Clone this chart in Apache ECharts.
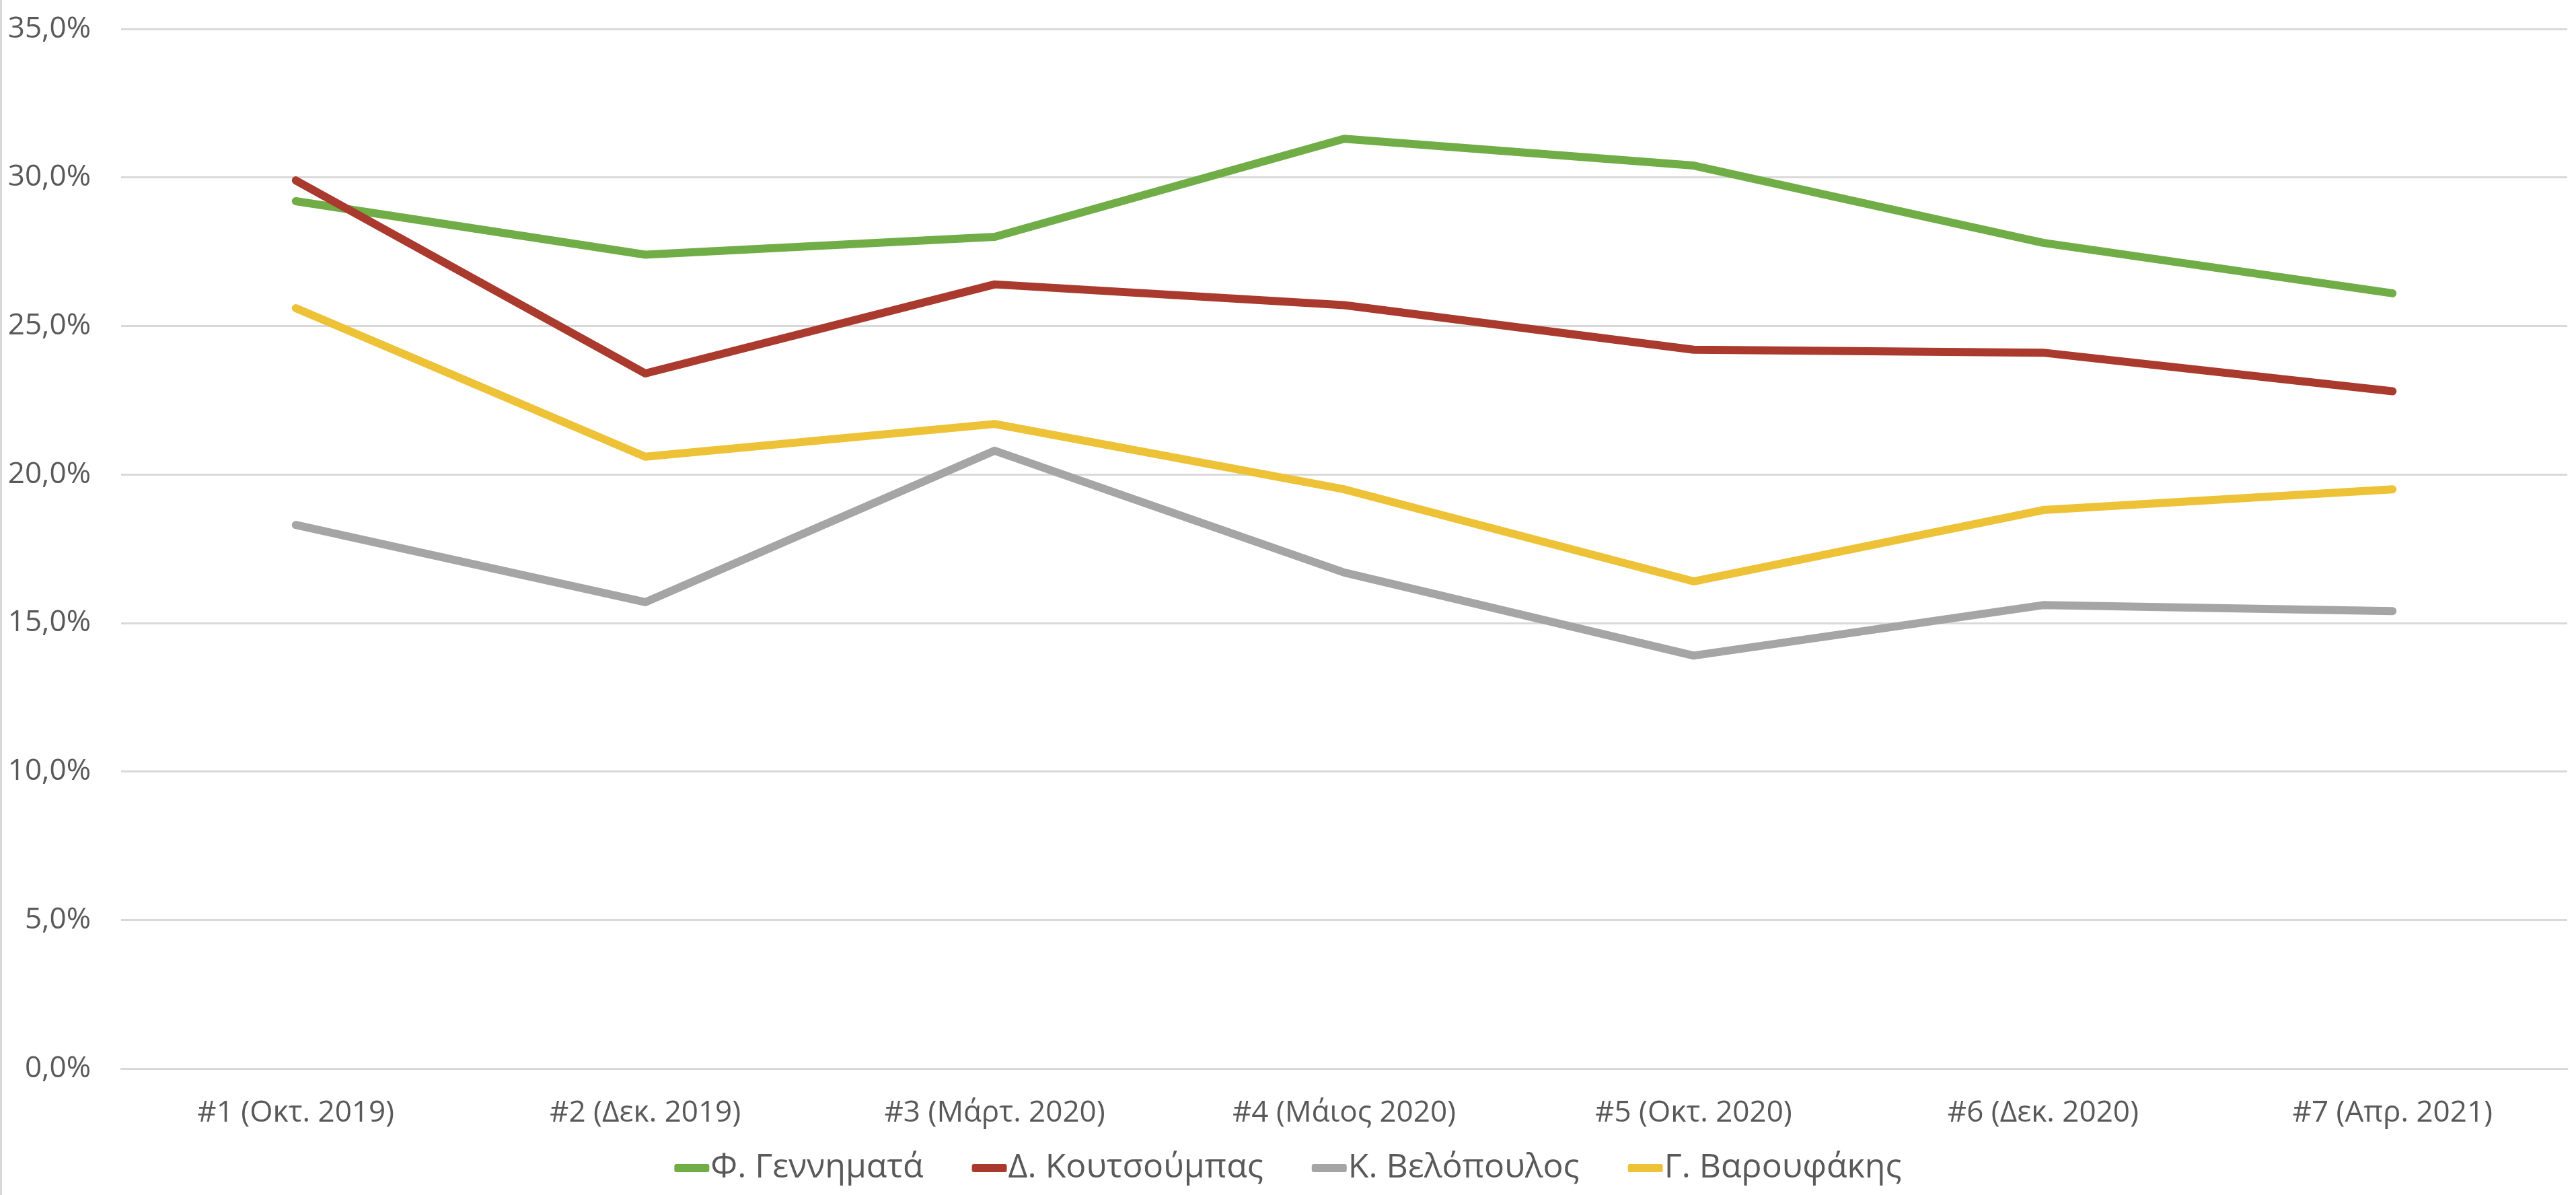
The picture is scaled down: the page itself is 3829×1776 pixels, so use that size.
<!DOCTYPE html>
<html>
<head>
    <meta charset="utf-8">
    <title>ECharts</title>
    <script src="https://cdn.jsdelivr.net/npm/echarts@6/dist/echarts.min.js"></script>
    <style>
        html, body { margin: 0; padding: 0; background: #fff; }
    </style>
</head>
<body>
    <div id="main" style="width: 3829px;height:1776px;"></div>
    <script type="text/javascript">
        var myChart = echarts.init(document.getElementById('main'));

        // δημοσκοπήσεις
        var categories = ['#1 (Οκτ. 2019)', '#2 (Δεκ. 2019)', '#3 (Μάρτ. 2020)', '#4 (Μάιος 2020)',
                          '#5 (Οκτ. 2020)', '#6 (Δεκ. 2020)', '#7 (Απρ. 2021)'];
        var names = ['Φ. Γεννηματά', 'Δ. Κουτσούμπας', 'Κ. Βελόπουλος', 'Γ. Βαρουφάκης'];
        var gennimata   = [29.2, 27.4, 28.0, 31.3, 30.4, 27.8, 26.1];
        var koutsoumpas = [29.9, 23.4, 26.4, 25.7, 24.2, 24.1, 22.8];
        var velopoulos  = [18.3, 15.7, 20.8, 16.7, 13.9, 15.6, 15.4];
        var varoufakis  = [25.6, 20.6, 21.7, 19.5, 16.4, 18.8, 19.5];
        var colors = ['#70AD47', '#AA3A2D', '#A5A5A5', '#EDC237'];

        var font = '"Open Sans", "Noto Sans", sans-serif';
        var textColor = '#595959';

        function makeLine(name, data, color) {
            return {
                name: name,
                type: 'line',
                data: data,
                symbol: 'none',
                smooth: false,
                lineStyle: { width: 12, color: color, cap: 'round', join: 'round' },
                itemStyle: { color: color }
            };
        }

        option = {
            animation: false,
            backgroundColor: '#fff',
            grid: { left: 180, right: 13, top: 43, bottom: 188, containLabel: false },
            legend: {
                bottom: 10,
                left: 'center',
                icon: 'roundRect',
                itemWidth: 52,
                itemHeight: 12,
                itemGap: 72,
                textStyle: { fontFamily: font, fontSize: 50, color: textColor, padding: [0, 0, 0, -3] },
                data: names
            },
            xAxis: {
                type: 'category',
                data: categories,
                boundaryGap: true,
                axisLine: { show: true, lineStyle: { color: '#D9D9D9', width: 3 } },
                axisTick: { show: false },
                axisLabel: { fontFamily: font, fontSize: 44, color: textColor, margin: 44 }
            },
            yAxis: {
                type: 'value',
                min: 0,
                max: 35,
                interval: 5,
                axisLine: { show: false },
                axisTick: { show: false },
                splitLine: { lineStyle: { color: '#D9D9D9', width: 3 } },
                axisLabel: {
                    fontFamily: font, fontSize: 44, color: textColor, margin: 45,
                    formatter: function (v) { return v.toFixed(1).replace('.', ',') + '%'; }
                }
            },
            graphic: [{
                type: 'rect',
                left: 0, top: 0,
                shape: { width: 3, height: 1776 },
                style: { fill: '#D9D9D9' }
            }],
            series: [
                makeLine(names[0], gennimata, colors[0]),
                makeLine(names[1], koutsoumpas, colors[1]),
                makeLine(names[2], velopoulos, colors[2]),
                makeLine(names[3], varoufakis, colors[3])
            ]
        };

        myChart.setOption(option);
    </script>
</body>
</html>
